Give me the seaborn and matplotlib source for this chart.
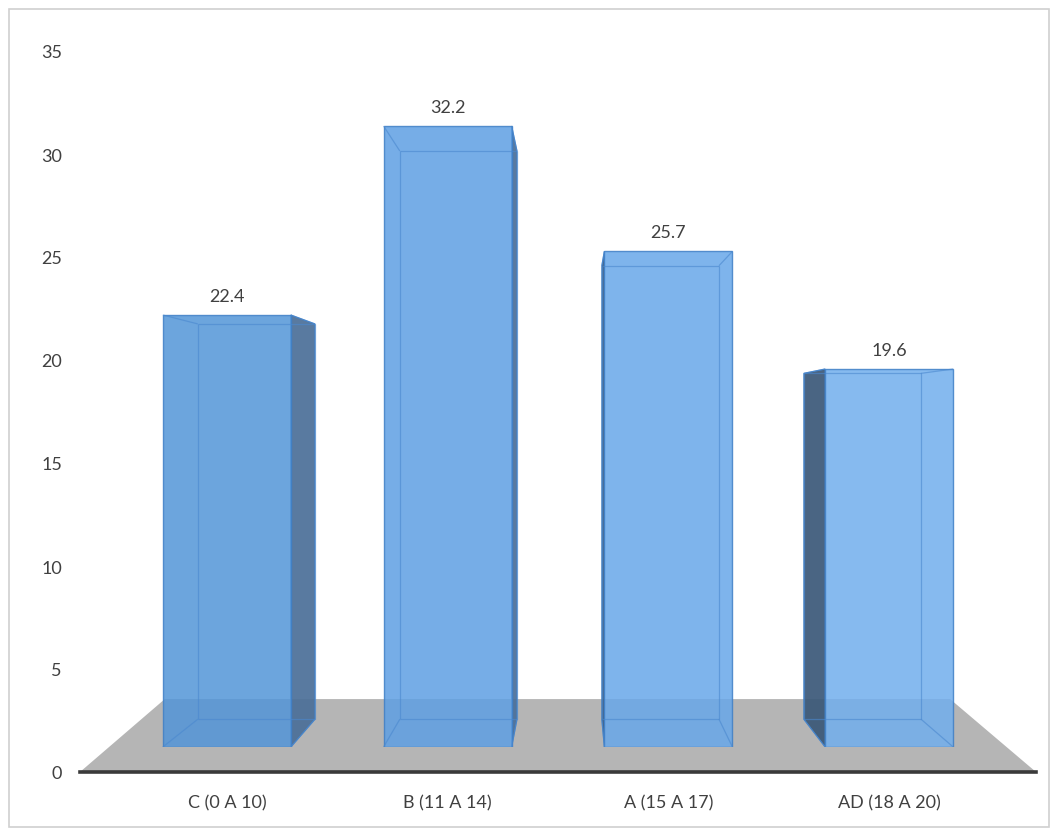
import matplotlib
matplotlib.use("Agg")
import matplotlib.pyplot as plt
import seaborn as sns
import pandas as pd
from matplotlib.patches import Polygon, Rectangle

categories = ["C (0 A 10)", "B (11 A 14)", "A (15 A 17)", "AD (18 A 20)"]
values = [22.4, 32.2, 25.7, 19.6]
y_ticks = [0, 5, 10, 15, 20, 25, 30, 35]
bar_colors = ["#5295d8", "#5e9fe3", "#68a7e9", "#71aeed"]

sns.set_theme(style="white")
plt.rcParams["font.family"] = ["Lato", "DejaVu Sans"]

W, H = 1059, 837
fig = plt.figure(figsize=(W / 100, H / 100), dpi=100)
fig.patch.set_facecolor("white")

# outer border
fig.patches.append(Rectangle((9 / W, 1 - 828 / H), 1040 / W, 818 / H,
                             transform=fig.transFigure, fill=False,
                             edgecolor="#d0d0d0", linewidth=1.2))

XL, XR = 80, 1036
XLIM = (-0.665, 3.665)

# main axis (value scale + floor)
ax = fig.add_axes([XL / W, 1 - 773 / H, (XR - XL) / W, (773 - 52) / H])
ax.set_xlim(*XLIM)
ax.set_ylim(0, 35)
ax.set_facecolor("none")
for s in ["top", "right", "left"]:
    ax.spines[s].set_visible(False)
ax.spines["bottom"].set_color("#3a3a3a")
ax.spines["bottom"].set_linewidth(2.6)
ax.set_yticks(y_ticks)
ax.set_yticklabels([str(t) for t in y_ticks])
ax.set_xticks(range(len(categories)))
ax.set_xticklabels(categories)
ax.tick_params(axis="y", length=0, pad=13, labelsize=13, labelcolor="#404040")
ax.tick_params(axis="x", length=0, pad=16, labelsize=13, labelcolor="#404040")

floor = Polygon([(XLIM[0], 0), (XLIM[1], 0), (3.276, 3.54), (-0.281, 3.54)],
                closed=True, facecolor="#b5b5b5", edgecolor="none", zorder=0)
ax.add_patch(floor)

# bar axis (perspective front plane)
axb = fig.add_axes([XL / W, 1 - 748 / H, (XR - XL) / W, 675 / H])
axb.set_facecolor("none")
df = pd.DataFrame({"cat": categories, "val": values})
sns.barplot(data=df, x="cat", y="val", hue="cat", palette=bar_colors, legend=False,
            saturation=1, ax=axb, width=0.58, alpha=0.85, edgecolor="#3f7fc6",
            linewidth=1.0, zorder=3)
axb.set_xlim(*XLIM)
axb.set_ylim(0, 35)
axb.axis("off")

VP = (1.575, 16.95)
S = 0.915


def proj(p):
    return (VP[0] + (p[0] - VP[0]) * S, VP[1] + (p[1] - VP[1]) * S)


edge = "#3f7fc6"
patches = sorted(axb.patches, key=lambda q: q.get_x())
for p, v in zip(patches, values):
    x0 = p.get_x()
    x1 = x0 + p.get_width()
    h = p.get_height()
    FL0, FR0, FR1, FL1 = (x0, 0), (x1, 0), (x1, h), (x0, h)
    BL0, BR0, BR1, BL1 = proj(FL0), proj(FR0), proj(FR1), proj(FL1)
    cx = (x0 + x1) / 2
    # side face toward vanishing point
    if cx < VP[0]:
        side = [FR0, FR1, BR1, BR0]
        sc = "#4b6f98"
    else:
        side = [FL0, FL1, BL1, BL0]
        sc = "#3a5878"
    axb.add_patch(Polygon(side, closed=True, facecolor=sc, edgecolor=edge,
                          linewidth=0.8, alpha=0.92, zorder=2))
    # inner edges (transparent box)
    for a, b in [(BL0, BR0), (BR0, BR1), (BR1, BL1), (BL1, BL0),
                 (FL0, BL0), (FR0, BR0), (FR1, BR1), (FL1, BL1)]:
        axb.plot([a[0], b[0]], [a[1], b[1]], color="#4a88cf", linewidth=0.9,
                 alpha=0.6, zorder=4, solid_capstyle="butt")
    axb.annotate(f"{v}", xy=(cx, h), xytext=(0, 8), textcoords="offset points",
                 ha="center", va="bottom", fontsize=13, color="#404040", zorder=5)

fig.savefig("out.png", dpi=100)
